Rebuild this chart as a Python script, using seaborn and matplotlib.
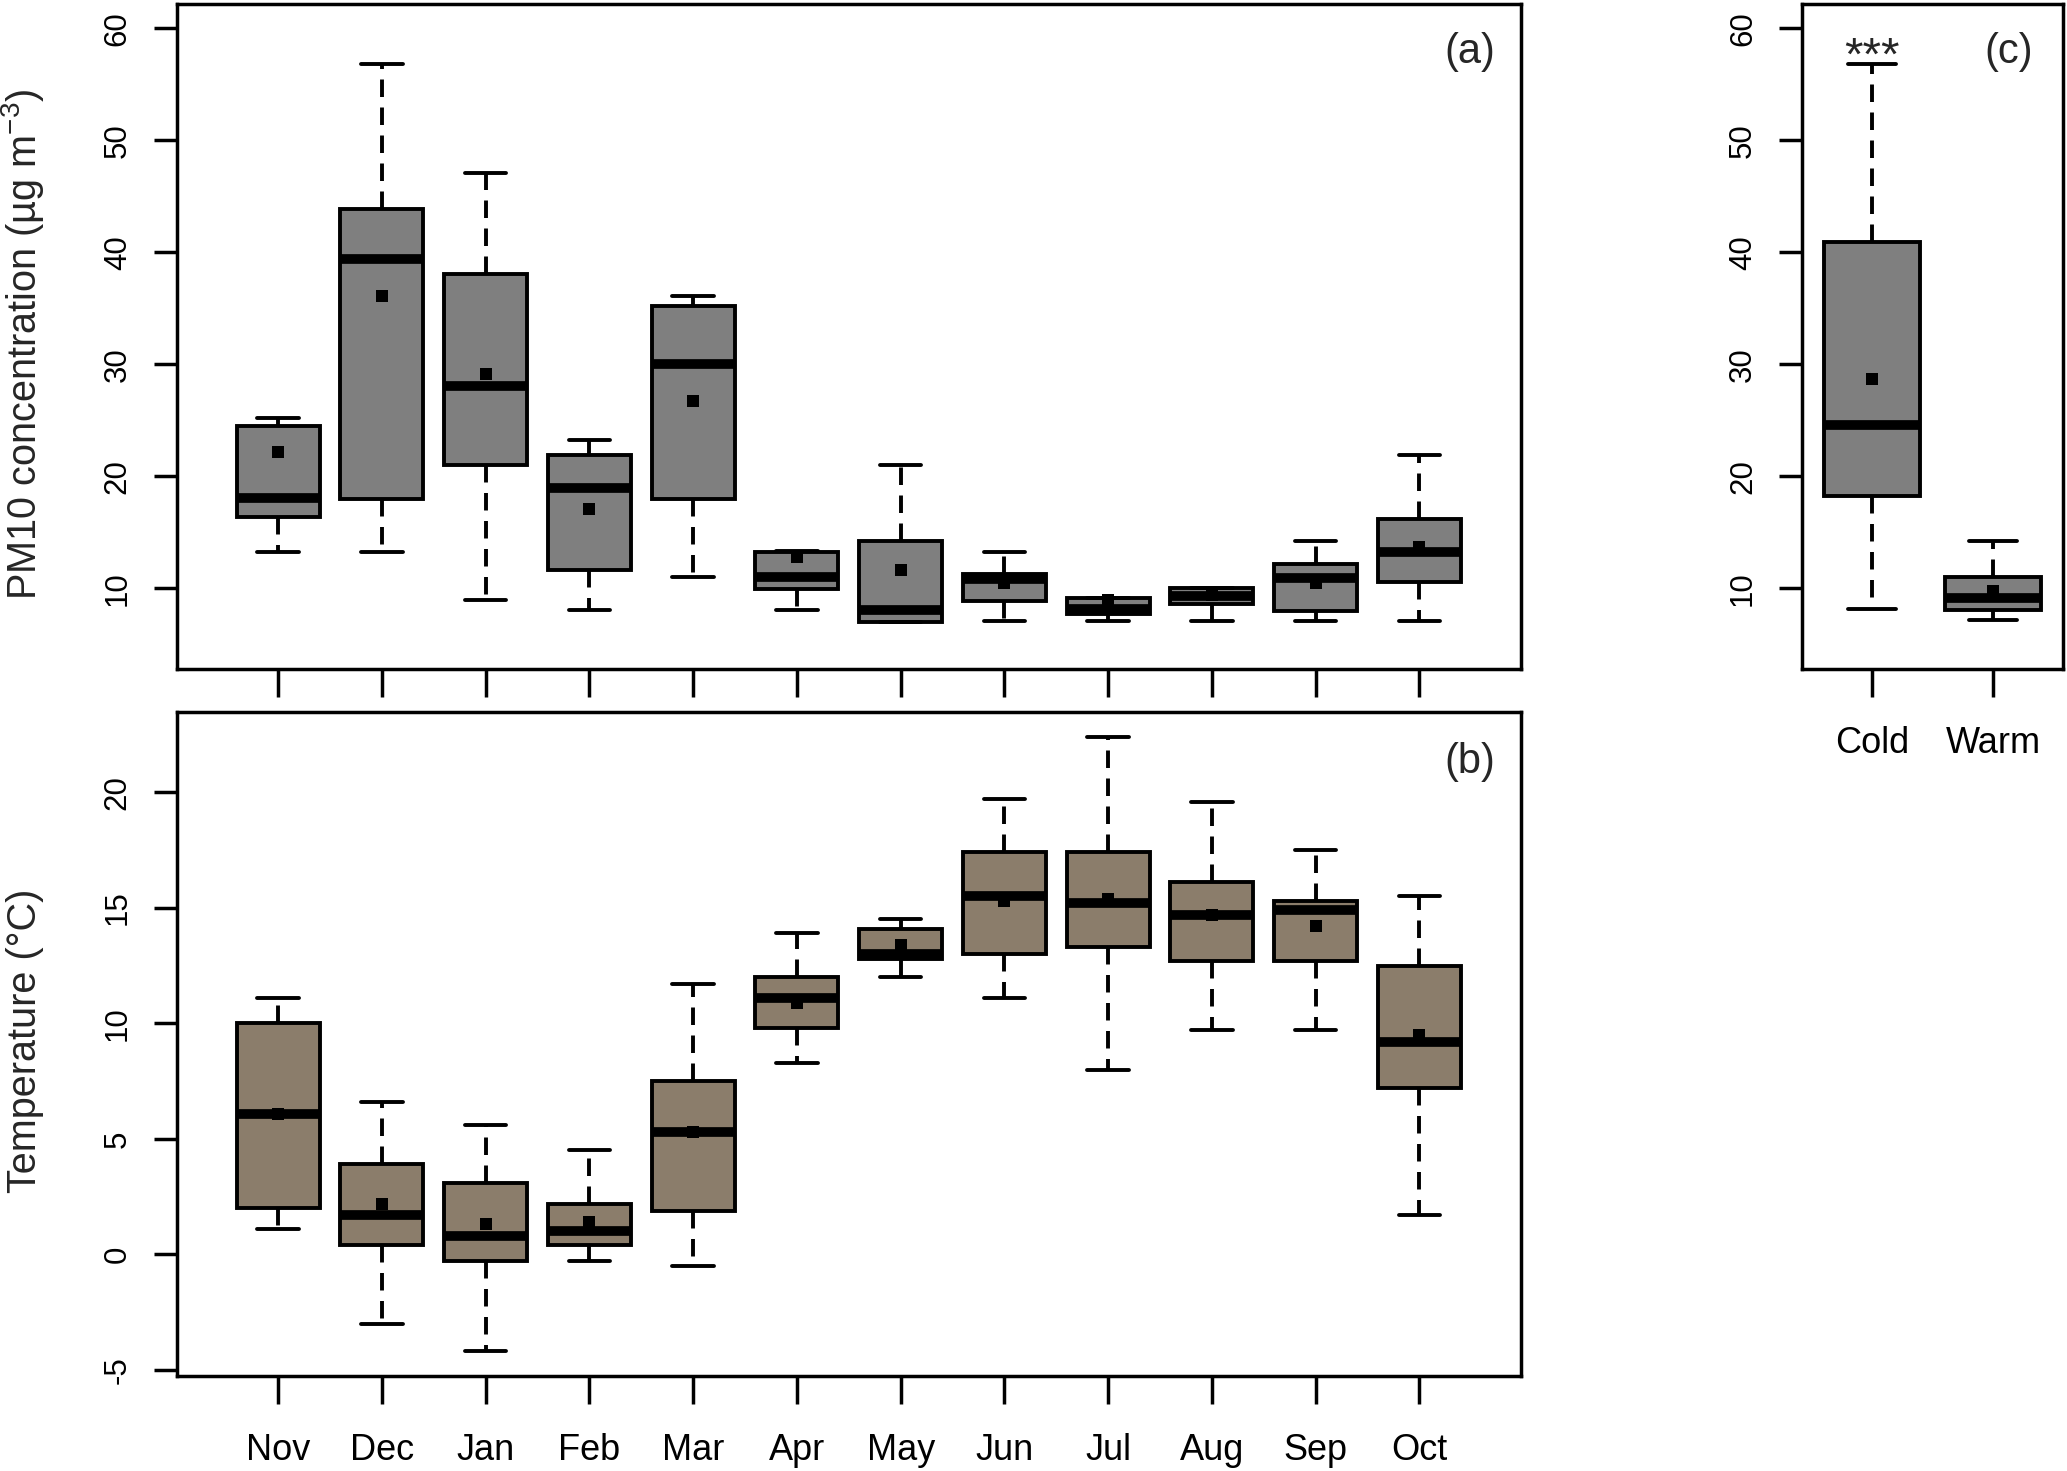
import numpy as np
import pandas as pd
import matplotlib
matplotlib.use("Agg")
import matplotlib.pyplot as plt
import seaborn as sns

# ---------------- data ----------------
months = ["Nov", "Dec", "Jan", "Feb", "Mar", "Apr", "May", "Jun", "Jul", "Aug", "Sep", "Oct"]

# PM10 monthly box statistics (µg m-3)
pm_low = [13.2, 13.2, 9.0, 8.1, 11.0, 8.1, 7.0, 7.1, 7.1, 7.1, 7.1, 7.1]
pm_q1 = [16.4, 18.0, 21.0, 11.6, 18.0, 9.9, 7.0, 8.9, 7.7, 8.6, 8.0, 10.6]
pm_med = [18.1, 39.4, 28.1, 19.0, 30.0, 11.0, 8.1, 10.8, 8.2, 9.3, 10.9, 13.2]
pm_q3 = [24.5, 43.9, 38.1, 21.9, 35.2, 13.2, 14.2, 11.3, 9.1, 10.0, 12.2, 16.2]
pm_high = [25.2, 56.8, 47.1, 23.2, 36.1, 13.3, 21.0, 13.2, 9.1, 10.0, 14.2, 21.9]
pm_mean = [22.2, 36.1, 29.1, 17.1, 26.7, 12.8, 11.6, 10.5, 9.0, 9.4, 10.5, 13.7]

# Temperature monthly box statistics (°C)
t_low = [1.1, -3.0, -4.2, -0.3, -0.5, 8.3, 12.0, 11.1, 8.0, 9.7, 9.7, 1.7]
t_q1 = [2.0, 0.4, -0.3, 0.4, 1.9, 9.8, 12.8, 13.0, 13.3, 12.7, 12.7, 7.2]
t_med = [6.1, 1.7, 0.8, 1.0, 5.3, 11.1, 13.0, 15.5, 15.2, 14.7, 14.9, 9.2]
t_q3 = [10.0, 3.9, 3.1, 2.2, 7.5, 12.0, 14.1, 17.4, 17.4, 16.1, 15.3, 12.5]
t_high = [11.1, 6.6, 5.6, 4.5, 11.7, 13.9, 14.5, 19.7, 22.4, 19.6, 17.5, 15.5]
t_mean = [6.1, 2.2, 1.3, 1.4, 5.3, 10.9, 13.4, 15.3, 15.4, 14.7, 14.2, 9.5]

# PM10 by season
seasons = ["Cold", "Warm"]
s_low = [8.2, 7.2]
s_q1 = [18.2, 8.1]
s_med = [24.6, 9.1]
s_q3 = [40.9, 11.0]
s_high = [56.8, 14.2]
s_mean = [28.7, 9.8]
signif_label = "***"
signif_y = 56.3

# ---------------- style ----------------
sns.set_style("white")
plt.rcParams["font.family"] = ["Liberation Sans", "DejaVu Sans"]
plt.rcParams["mathtext.fontset"] = "custom"
plt.rcParams["mathtext.rm"] = "Liberation Sans"
plt.rcParams["mathtext.it"] = "Liberation Sans:italic"
plt.rcParams["mathtext.bf"] = "Liberation Sans:bold"
plt.rcParams["axes.unicode_minus"] = False

GRAY = "#7F7F7F"
TAN = "#8B7D6B"
LW = 2.8

W, H = 2067, 1471
fig = plt.figure(figsize=(W / 100, H / 100), dpi=100)
ax_a = fig.add_axes([0.0854, 0.5452, 0.6505, 0.4524])
ax_b = fig.add_axes([0.0854, 0.0646, 0.6505, 0.4511])
ax_c = fig.add_axes([0.8717, 0.5452, 0.1264, 0.4524])


def draw_boxes(ax, cats, lo, q1, med, q3, hi, means, color):
    vals = np.column_stack([lo, q1, med, q3, hi]).ravel()
    df = pd.DataFrame({"cat": np.repeat(cats, 5), "val": vals})
    sns.boxplot(
        data=df, x="cat", y="val", order=cats, ax=ax,
        whis=(0, 100), width=0.8, color=color, saturation=1,
        linecolor="black", linewidth=LW, showfliers=False,
        medianprops=dict(linewidth=7.0, solid_capstyle="butt"),
        whiskerprops=dict(linestyle=(0, (4.5, 2.7))),
    )
    sns.stripplot(
        x=cats, y=means, order=cats, ax=ax, marker="s", color="black",
        size=8, jitter=False, linewidth=0, zorder=10,
    )


def style_axes(ax, yticks, ylim, xlim, show_xlabels):
    ax.set_xlim(*xlim)
    ax.set_ylim(*ylim)
    ax.set_yticks(yticks)
    ax.set_xlabel("")
    ax.set_ylabel("")
    for s in ax.spines.values():
        s.set_visible(True)
        s.set_linewidth(2.5)
        s.set_color("black")
    ax.tick_params(axis="y", direction="out", length=16.5, width=2.5,
                   labelsize=22.5, pad=15, labelrotation=90, left=True,
                   colors="black")
    ax.tick_params(axis="x", direction="out", length=20, width=2.5,
                   labelsize=26, pad=21, bottom=True, colors="black",
                   labelbottom=show_xlabels)
    for lbl in ax.get_yticklabels():
        lbl.set_va("center")


draw_boxes(ax_a, months, pm_low, pm_q1, pm_med, pm_q3, pm_high, pm_mean, GRAY)
style_axes(ax_a, [10, 20, 30, 40, 50, 60], (2.8, 62.2), (-0.98, 11.98), False)

draw_boxes(ax_b, months, t_low, t_q1, t_med, t_q3, t_high, t_mean, TAN)
style_axes(ax_b, [-5, 0, 5, 10, 15, 20], (-5.26, 23.46), (-0.98, 11.98), True)

draw_boxes(ax_c, seasons, s_low, s_q1, s_med, s_q3, s_high, s_mean, GRAY)
style_axes(ax_c, [10, 20, 30, 40, 50, 60], (2.8, 62.2), (-0.58, 1.58), True)
ax_c.text(0, signif_y, signif_label, ha="center", va="baseline", fontsize=34)

# panel letters
ax_a.text(0.981, 0.927, "(a)", transform=ax_a.transAxes, ha="right", va="center", fontsize=30)
ax_b.text(0.981, 0.925, "(b)", transform=ax_b.transAxes, ha="right", va="center", fontsize=30)
ax_c.text(0.885, 0.927, "(c)", transform=ax_c.transAxes, ha="right", va="center", fontsize=30)

# y-axis titles
fig.text(0.0111, 0.7661, "PM10 concentration (µg m$^{-3}$)", rotation=90,
         ha="center", va="center", fontsize=28.5)
fig.text(0.0119, 0.2923, "Temperature (°C)", rotation=90,
         ha="center", va="center", fontsize=28.5)

fig.savefig("out.png", dpi=100, facecolor="white")
